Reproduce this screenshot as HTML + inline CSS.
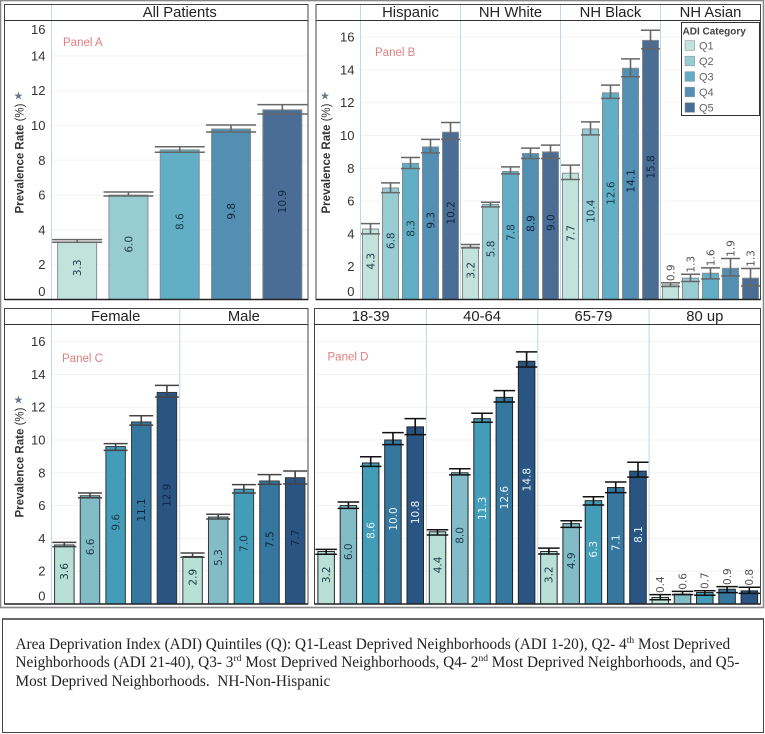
<!DOCTYPE html>
<html lang="en">
<head>
<meta charset="utf-8">
<title>Prevalence Rate by ADI Quintile</title>
<style>
html,body{margin:0;padding:0;background:#fff;}
#page{position:relative;width:765px;height:734px;overflow:hidden;background:#fff;}
#chart{position:absolute;left:0;top:0;filter:blur(0.25px);}
#caption{position:absolute;left:2px;top:618px;width:760px;height:112px;border:1px solid #444;border-top:2px solid #666;box-sizing:content-box;font-family:"Liberation Serif",serif;font-size:15.3px;color:#222;}
#caption div{position:absolute;left:12.5px;white-space:nowrap;line-height:18px;}
#caption sup{font-size:9.5px;line-height:0;}
</style>
</head>
<body>
<div id="page">
<svg id="chart" width="765" height="610" viewBox="0 0 765 610" xmlns="http://www.w3.org/2000/svg"></svg>
<div id="caption">
<div style="top:15.5px">Area Deprivation Index (ADI) Quintiles (Q): Q1-Least Deprived Neighborhoods (ADI 1-20), Q2- 4<sup>th</sup> Most Deprived</div>
<div style="top:33.5px">Neighborhoods (ADI 21-40), Q3- 3<sup>rd</sup> Most Deprived Neighborhoods, Q4- 2<sup>nd</sup> Most Deprived Neighborhoods, and Q5-</div>
<div style="top:52.5px">Most Deprived Neighborhoods.&nbsp; NH-Non-Hispanic</div>
</div>
</div>
<script>
const yTicks = [0, 2, 4, 6, 8, 10, 12, 14, 16];
const quintiles = ['Q1', 'Q2', 'Q3', 'Q4', 'Q5'];

const panelAGroups = ['All Patients'];
const panelAValues = [[3.3, 6.0, 8.6, 9.8, 10.9]];
const panelAHigh = [[3.44, 6.18, 8.78, 10.03, 11.2]];
const panelALow = [[3.29, 5.95, 8.46, 9.63, 10.66]];

const panelBGroups = ['Hispanic', 'NH White', 'NH  Black', 'NH  Asian'];
const panelBValues = [
  [4.3, 6.8, 8.3, 9.3, 10.2],
  [3.2, 5.8, 7.8, 8.9, 9.0],
  [7.7, 10.4, 12.6, 14.1, 15.8],
  [0.9, 1.3, 1.6, 1.9, 1.3]
];
const panelBHigh = [
  [4.63, 7.11, 8.66, 9.76, 10.79],
  [3.35, 5.93, 8.09, 9.23, 9.41],
  [8.19, 10.83, 13.07, 14.67, 16.42],
  [1.02, 1.54, 1.93, 2.5, 1.89]
];
const panelBLow = [
  [4.0, 6.52, 7.99, 8.94, 9.76],
  [3.15, 5.65, 7.66, 8.6, 8.6],
  [7.32, 10.04, 12.26, 13.58, 15.28],
  [0.79, 1.1, 1.26, 1.44, 0.83]
];

const panelCGroups = ['Female', 'Male'];
const panelCValues = [
  [3.6, 6.6, 9.6, 11.1, 12.9],
  [2.9, 5.3, 7.0, 7.5, 7.7]
];
const panelCHigh = [
  [3.76, 6.77, 9.78, 11.48, 13.33],
  [3.11, 5.47, 7.28, 7.89, 8.11]
];
const panelCLow = [
  [3.5, 6.48, 9.37, 10.91, 12.62],
  [2.85, 5.18, 6.77, 7.3, 7.32]
];

const panelDGroups = ['18-39', '40-64', '65-79', '80 up'];
const panelDValues = [
  [3.2, 6.0, 8.6, 10.0, 10.8],
  [4.4, 8.0, 11.3, 12.6, 14.8],
  [3.2, 4.9, 6.3, 7.1, 8.1],
  [0.4, 0.6, 0.7, 0.9, 0.8]
];
const panelDHigh = [
  [3.33, 6.22, 8.98, 10.45, 11.3],
  [4.53, 8.25, 11.63, 13.01, 15.37],
  [3.41, 5.08, 6.54, 7.44, 8.64],
  [0.57, 0.77, 0.81, 1.06, 1.02]
];
const panelDLow = [
  [3.03, 5.83, 8.39, 9.72, 10.33],
  [4.21, 7.87, 11.08, 12.32, 14.45],
  [3.05, 4.67, 6.04, 6.79, 7.74],
  [0.26, 0.57, 0.53, 0.69, 0.65]
];

const SVG_NS = 'http://www.w3.org/2000/svg';
const svg = document.getElementById('chart');
const paleColors = ['#c2e3db', '#97ccd3', '#62aec6', '#528fb2', '#4a6d96'];
const deepColors = ['#b9e0d4', '#82bcc6', '#439cb8', '#35779f', '#2a5583'];
const SANS = '"Liberation Sans", sans-serif';
const LABEL_FONT = '"DejaVu Sans", sans-serif';

function make(parent, tag, props, text) {
  const el = document.createElementNS(SVG_NS, tag);
  for (const key in props) el.setAttribute(key, props[key]);
  if (text !== undefined) el.textContent = text;
  parent.appendChild(el);
  return el;
}

function drawPanel(cfg) {
  const g = make(svg, 'g', {});
  
  

  const yScale = function (v) { return cfg.baseline - v * cfg.unit; };
  const groupWidth = (cfg.right - cfg.plotLeft) / cfg.groups.length;
  const step = groupWidth / quintiles.length;
  const xCenter = function (gi, qi) { return cfg.plotLeft + groupWidth * gi + step * (qi + 0.5); };

  yTicks.forEach(function (t) {
    const grid = make(g, 'line', { x1: cfg.plotLeft, x2: cfg.right, y1: yScale(t), y2: yScale(t), stroke: '#f3f3f3', 'stroke-width': 1 });
    
    
  });

  cfg.groups.forEach(function (label, gi) {
    const dx = cfg.plotLeft + groupWidth * gi;
    if (gi > 0 || cfg.hasAxis) {
      const sep = make(g, 'line', { x1: dx, x2: dx, y1: cfg.top, y2: cfg.baseline, stroke: '#c3d5e0', 'stroke-width': 1 });
      
      
    }
    const head = make(g, 'text', { x: dx + groupWidth / 2, y: cfg.top + 12.5, 'text-anchor': 'middle', 'font-family': SANS, 'font-size': 14.8, fill: '#222', 'xml:space': 'preserve' }, label);
    
    

    quintiles.forEach(function (q, qi) {
      const value = cfg.values[gi][qi];
      const high = cfg.high[gi][qi];
      const low = cfg.low[gi][qi];
      const cx = xCenter(gi, qi);
      const top = yScale(value);
      const bar = make(g, 'rect', { x: cx - cfg.barWidth / 2, y: top, width: cfg.barWidth, height: cfg.baseline - top, fill: cfg.colors[qi], stroke: cfg.barStroke, 'stroke-width': 1 });
      
      

      const capHalf = cfg.capWidth / 2;
      const stem = make(g, 'line', { x1: cx, x2: cx, y1: yScale(high), y2: yScale(low), stroke: cfg.errorStroke, 'stroke-width': 1.6 });
      
      
      const capHigh = make(g, 'line', { x1: cx - capHalf, x2: cx + capHalf, y1: yScale(high), y2: yScale(high), stroke: cfg.errorStroke, 'stroke-width': 1.5 });
      
      
      const capLow = make(g, 'line', { x1: cx - capHalf, x2: cx + capHalf, y1: yScale(low), y2: yScale(low), stroke: cfg.errorStroke, 'stroke-width': 1.5 });
      
      

      const outside = value < 2;
      const ly = outside ? yScale(high) - 10 : (top + cfg.baseline) / 2 - 3;
      let fill = qi >= 3 ? '#10253f' : '#1d3a49';
      if (outside) fill = '#555';
      if (cfg.lightLabels && !outside && qi >= 2) fill = '#e4f6fc';
      const valueLabel = make(g, 'text', { x: 0, y: 0, transform: 'translate(' + (cx + 3.8) + ' ' + ly + ') rotate(-90)', 'text-anchor': 'middle', 'font-family': LABEL_FONT, 'font-size': 10.5, fill: fill }, value.toFixed(1));
      
      
    });
  });

  const frame = make(g, 'rect', { x: cfg.left, y: cfg.top, width: cfg.right - cfg.left, height: cfg.baseline - cfg.top, fill: 'none', stroke: '#444', 'stroke-width': 1 });
  
  
  const headerRule = make(g, 'line', { x1: cfg.left, x2: cfg.right, y1: cfg.top + 16, y2: cfg.top + 16, stroke: '#333', 'stroke-width': 1 });
  
  
  const base = make(g, 'line', { x1: cfg.left, x2: cfg.right, y1: cfg.baseline, y2: cfg.baseline, stroke: '#222', 'stroke-width': 1.6 });
  
  

  if (cfg.hasAxis) {
    yTicks.forEach(function (t) {
      const ty = Math.min(cfg.baseline - 8, Math.max(cfg.top + 25, yScale(t)));
      const tick = make(g, 'text', { x: cfg.plotLeft - 6, y: ty + 4.5, 'text-anchor': 'end', 'font-family': SANS, 'font-size': 13, fill: '#333' }, String(t));
      
      
    });
    const ax = cfg.left + cfg.axisOffset;
    const title = make(g, 'text', { x: 0, y: 0, transform: 'translate(' + ax + ' ' + (cfg.top + 209) + ') rotate(-90)', 'font-family': SANS, 'font-size': 11.5, fill: '#333' });
    
    
    make(title, 'tspan', { 'font-weight': 'bold' }, 'Prevalence Rate');
    make(title, 'tspan', {}, ' (%)');
    const pin = make(g, 'text', { x: ax - 10, y: cfg.top + 95, 'font-family': LABEL_FONT, 'font-size': 11, fill: '#667788' }, '\u2605');
    
    
  }

  const tag = make(g, 'text', { x: cfg.tagX, y: cfg.tagY, 'font-family': SANS, 'font-size': 11.5, fill: '#e07f7f' }, cfg.tag);
  
  
}

drawPanel({ name: 'panel-a', tag: 'Panel A', tagX: 63, tagY: 46, left: 4.5, plotLeft: 51.5, right: 308, top: 4.5, baseline: 299.5, unit: 17.4, axisOffset: 19, groups: panelAGroups, values: panelAValues, high: panelAHigh, low: panelALow, colors: paleColors, barWidth: 39, capWidth: 50, barStroke: '#828e92', errorStroke: '#666', hasAxis: true, lightLabels: false });
drawPanel({ name: 'panel-b', tag: 'Panel B', tagX: 375, tagY: 56, left: 316, plotLeft: 360.5, right: 760.5, top: 4.5, baseline: 299.5, unit: 16.4, axisOffset: 14, groups: panelBGroups, values: panelBValues, high: panelBHigh, low: panelBLow, colors: paleColors, barWidth: 16, capWidth: 19, barStroke: '#828e92', errorStroke: '#666', hasAxis: true, lightLabels: false });
drawPanel({ name: 'panel-c', tag: 'Panel C', tagX: 62, tagY: 362, left: 4.5, plotLeft: 51.5, right: 308, top: 308.5, baseline: 604, unit: 16.4, axisOffset: 19, groups: panelCGroups, values: panelCValues, high: panelCHigh, low: panelCLow, colors: deepColors, barWidth: 19.5, capWidth: 24, barStroke: '#33393d', errorStroke: '#444', hasAxis: true, lightLabels: false });
drawPanel({ name: 'panel-d', tag: 'Panel D', tagX: 327.5, tagY: 360.5, left: 314.5, plotLeft: 315, right: 760.5, top: 308.5, baseline: 604, unit: 16.4, axisOffset: 0, groups: panelDGroups, values: panelDValues, high: panelDHigh, low: panelDLow, colors: deepColors, barWidth: 16.5, capWidth: 21.5, barStroke: '#1f2528', errorStroke: '#111', hasAxis: false, lightLabels: true });

const legend = make(svg, 'g', {});


make(legend, 'rect', { x: 681.5, y: 22.5, width: 78, height: 93, fill: '#fff', stroke: '#333', 'stroke-width': 1 });
const legendTitle = make(legend, 'text', { x: 682.5, y: 34.5, 'font-family': SANS, 'font-size': 10, 'font-weight': 'bold', fill: '#444' }, 'ADI Category');


quintiles.forEach(function (q, i) {
  const yc = 45.5 + i * 15.5;
  const swatch = make(legend, 'rect', { x: 685, y: yc - 4.8, width: 9.6, height: 9.6, fill: paleColors[i], stroke: '#8a9a9e', 'stroke-width': 0.6 });
  
  
  const entry = make(legend, 'text', { x: 699, y: yc + 4, 'font-family': SANS, 'font-size': 11, fill: '#666' }, q);
  
  
});

const outer = make(svg, 'rect', { x: 0.5, y: 0.5, width: 763, height: 607, fill: 'none', stroke: '#888', 'stroke-width': 1.6 });


</script>
</body>
</html>
